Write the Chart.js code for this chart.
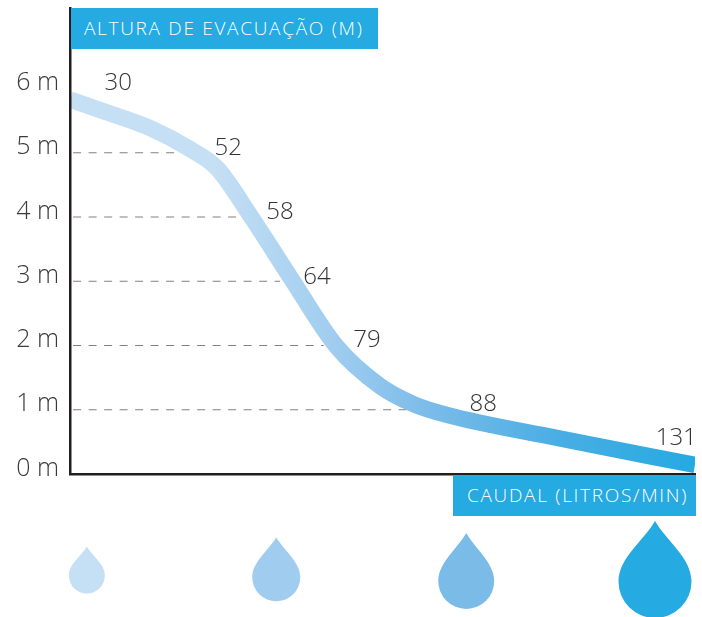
<!DOCTYPE html>
<html lang="pt">
<head>
<meta charset="utf-8">
<title>Altura de evacuação</title>
<script src="https://cdn.jsdelivr.net/npm/chart.js@4"></script>
<style>
html,body{margin:0;padding:0;background:#fff;width:702px;height:617px;overflow:hidden}
#wrap{position:relative;width:702px;height:617px}
canvas{position:absolute;left:0;top:0}
.banner{position:absolute;background:#25aae1;color:#fff;font:300 19px/41px "Open Sans",sans-serif;height:41px;white-space:nowrap;box-sizing:border-box}
</style>
</head>
<body>
<div id="wrap">
<canvas id="c" width="702" height="617"></canvas>
<div class="banner" style="left:71px;top:8px;width:307px;padding-left:13px;letter-spacing:1.7px">ALTURA DE EVACUAÇÃO (M)</div>
<div class="banner" style="left:453px;top:475px;width:243px;padding-left:14px;letter-spacing:1.7px">CAUDAL (LITROS/MIN)</div>
</div>
<script>
// Height axis
const heightTicks = [0, 1, 2, 3, 4, 5, 6];
// Curve: position along the (unscaled) horizontal axis in %, and height in metres
const curveX = [0, 4.8, 12.8, 19.2, 23.5, 29.0, 35.4, 42.6, 49.6, 54.9, 60.3, 78, 100];
const curveY = [5.83, 5.665, 5.385, 5.058, 4.763, 4.0, 3.04, 1.99, 1.37, 1.09, 0.92, 0.56, 0.14];
// Flow labels
const flowLabels = ['30', '52', '58', '64', '79', '88', '131'];
const flowLabelX = [7.7, 25.3, 33.6, 39.5, 47.5, 66.1, 97];
const flowLabelY = [6.09, 5.07, 4.08, 3.07, 2.09, 1.09, 0.56];
// Dashed guides: height and where each one stops
const guideHeights = [5, 4, 3, 2, 1];
const guideEnds = [17.3, 27, 33.6, 40.6, 54.1];
// Drops
const dropX = [2.7, 33, 63.4, 93.6];
const dropBottom = [-1.86, -1.98, -2.1, -2.24];
const dropTipHeight = [47, 64, 76, 97];
const dropWidth = [36, 48, 56, 73];
const dropColors = ['#c5dff4', '#a0cdef', '#7abbe8', '#25aae1'];
// Curve colour stops
const gradientStops = [[0, '#c5dff4'], [0.23, '#c5dff4'], [0.42, '#a0cdef'], [0.57, '#7cbce9'], [0.78, '#49aee4'], [1, '#25aae1']];

const extras = {
  id: 'extras',
  afterDraw(chart) {
    const { ctx, scales: { x, y } } = chart;
    ctx.save();
    ctx.font = '300 24px "Open Sans", sans-serif';
    ctx.fillStyle = '#333333';
    ctx.textAlign = 'center';
    ctx.textBaseline = 'middle';
    flowLabels.forEach((t, i) => ctx.fillText(t, x.getPixelForValue(flowLabelX[i]), y.getPixelForValue(flowLabelY[i])));
    dropX.forEach((v, i) => {
      const cx = x.getPixelForValue(v), b = y.getPixelForValue(dropBottom[i]);
      const h = dropTipHeight[i], r = dropWidth[i] / 2, t = b - h, cy = b - r;
      ctx.beginPath();
      ctx.moveTo(cx, t);
      ctx.bezierCurveTo(cx + r * 0.3, t + h * 0.2, cx + r, cy - r * 0.65, cx + r, cy);
      ctx.arc(cx, cy, r, 0, Math.PI);
      ctx.bezierCurveTo(cx - r, cy - r * 0.65, cx - r * 0.3, t + h * 0.2, cx, t);
      ctx.closePath();
      ctx.fillStyle = dropColors[i];
      ctx.fill();
    });
    ctx.restore();
  }
};

function curveGradient(context) {
  const { chart } = context;
  const area = chart.chartArea;
  if (!area) return gradientStops[0][1];
  const g = chart.ctx.createLinearGradient(area.left, 0, area.right, 0);
  gradientStops.forEach(s => g.addColorStop(s[0], s[1]));
  return g;
}

const guideSets = guideHeights.map((h, i) => ({
  data: [{ x: 0.5, y: h }, { x: guideEnds[i], y: h }],
  borderColor: '#808080',
  borderWidth: 1,
  borderDash: [8, 7.5],
  pointRadius: 0,
  order: 2
}));

new Chart(document.getElementById('c'), {
  type: 'line',
  data: {
    datasets: [
      {
        data: curveX.map((v, i) => ({ x: v, y: curveY[i] })),
        borderColor: curveGradient,
        borderWidth: 16.5,
        borderCapStyle: 'butt',
        cubicInterpolationMode: 'monotone',
        pointRadius: 0,
        clip: 0,
        order: 1
      },
      ...guideSets
    ]
  },
  options: {
    responsive: false,
    animation: false,
    events: [],
    layout: { padding: { top: 8, right: 7, bottom: 143, left: 0 } },
    plugins: { legend: { display: false }, tooltip: { enabled: false }, title: { display: false } },
    scales: {
      x: {
        type: 'linear',
        min: 0,
        max: 100,
        grid: { display: false, drawTicks: false },
        border: { display: true, color: '#231f20', width: 2.5, z: 1 },
        ticks: { display: false },
        afterFit(s) { s.height = 0; s.paddingLeft = 0; s.paddingRight = 0; }
      },
      y: {
        type: 'linear',
        min: 0,
        max: 7.253,
        afterBuildTicks(s) { s.ticks = heightTicks.map(v => ({ value: v })); },
        grid: { display: false, drawTicks: false },
        border: { display: true, color: '#231f20', width: 2.5, z: 1 },
        ticks: {
          color: '#3a3a3a',
          font: { family: '"Open Sans", sans-serif', size: 25, weight: '300' },
          padding: 11,
          labelOffset: -5.5,
          callback: v => v + ' m'
        },
        afterFit(s) { s.width = 70; s.paddingTop = 0; s.paddingBottom = 0; }
      }
    }
  },
  plugins: [extras]
});
</script>
</body>
</html>
